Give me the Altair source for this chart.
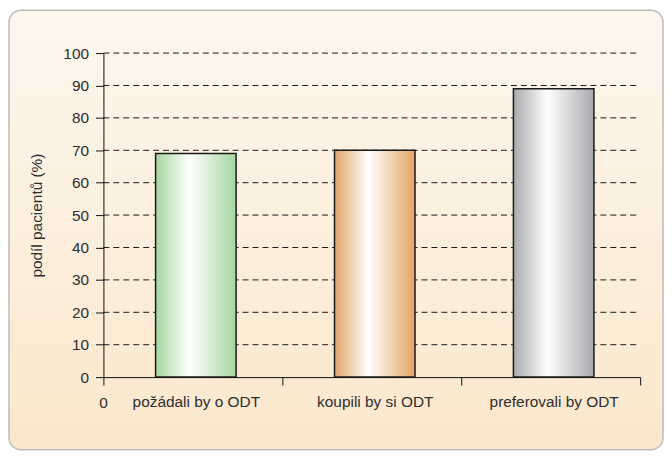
import altair as alt
import pandas as pd

categories = ["požádali by o ODT", "koupili by si ODT", "preferovali by ODT"]
values = [69, 70, 89]
edge_colors = ["#a6d6a0", "#e2a466", "#a8aaad"]
grid_values = [10, 20, 30, 40, 50, 60, 70, 80, 90, 100]
y_ticks = [0, 10, 20, 30, 40, 50, 60, 70, 80, 90, 100]
origin_label = "0"
y_title = "podíl pacientů (%)"

df = pd.DataFrame({"kategorie": categories, "podil": values})
grid_df = pd.DataFrame({"v": grid_values})

W, H = 540, 326
FONT = "Liberation Sans"
TXT = "#2e2e2e"
FS = 15.5

xscale = alt.Scale(domain=categories, paddingInner=0, paddingOuter=0)
yscale = alt.Scale(domain=[0, 100], nice=False)

y_axis = alt.Axis(title=y_title, values=y_ticks, grid=False,
                  tickSize=8, tickColor="#111", domainColor="#111",
                  labelFont=FONT, labelFontSize=FS, labelColor=TXT,
                  labelPadding=7, titleFont=FONT, titleFontSize=FS,
                  titleFontWeight="normal", titleColor=TXT,
                  titlePadding=18, zindex=1)
x_axis = alt.Axis(title=None, tickBand="extent", labelAngle=0,
                  tickSize=8, tickColor="#111", domainColor="#111",
                  labelFont=FONT, labelFontSize=FS, labelColor=TXT,
                  labelPadding=10, labelOffset=3, zindex=1, grid=False)

background = alt.Chart(alt.Data(values=[{"a": 1}])).mark_rect(
    cornerRadius=12,
    stroke="#bcbcbc",
    strokeWidth=1.5,
    fill=alt.Gradient(
        gradient="linear",
        stops=[alt.GradientStop(color="#fdf7ee", offset=0),
               alt.GradientStop(color="#fbe7cc", offset=1)],
        x1=0, x2=0, y1=0, y2=1,
    ),
).encode(x=alt.value(-95), x2=alt.value(563), y=alt.value(-43), y2=alt.value(399))

grid = alt.Chart(grid_df).mark_rule(
    color="#1a1a1a", strokeWidth=1, strokeDash=[6, 4]
).encode(
    y=alt.Y("v:Q", scale=yscale, axis=y_axis),
    x=alt.value(0),
    x2=alt.value(W - 3),
)

layers = [background, grid]
for cat, col in zip(categories, edge_colors):
    layers.append(
        alt.Chart(df).transform_filter(alt.datum.kategorie == cat).mark_bar(
            width=alt.RelativeBandSize(0.45),
            xOffset=3,
            fill=alt.Gradient(
                gradient="linear",
                stops=[alt.GradientStop(color=col, offset=0),
                       alt.GradientStop(color="#ffffff", offset=0.42),
                       alt.GradientStop(color=col, offset=1)],
                x1=0, x2=1, y1=0, y2=0,
            ),
            stroke="#1a1a1a",
            strokeWidth=1.5,
        ).encode(
            x=alt.X("kategorie:N", scale=xscale, sort=categories, axis=x_axis),
            y=alt.Y("podil:Q", scale=yscale, axis=y_axis),
        )
    )

zero = alt.Chart(alt.Data(values=[{"t": origin_label}])).mark_text(
    font=FONT, fontSize=FS, color=TXT, baseline="middle", align="center"
).encode(text="t:N", x=alt.value(0), y=alt.value(H + 26))
layers.append(zero)

chart = alt.layer(*layers).properties(
    width=W, height=H,
    autosize=alt.AutoSizeParams(type="none"),
    padding={"left": 96, "top": 44, "right": 24, "bottom": 74},
).configure_view(stroke=None)

chart.save("out.html", embed_options={"renderer": "svg", "actions": False})
